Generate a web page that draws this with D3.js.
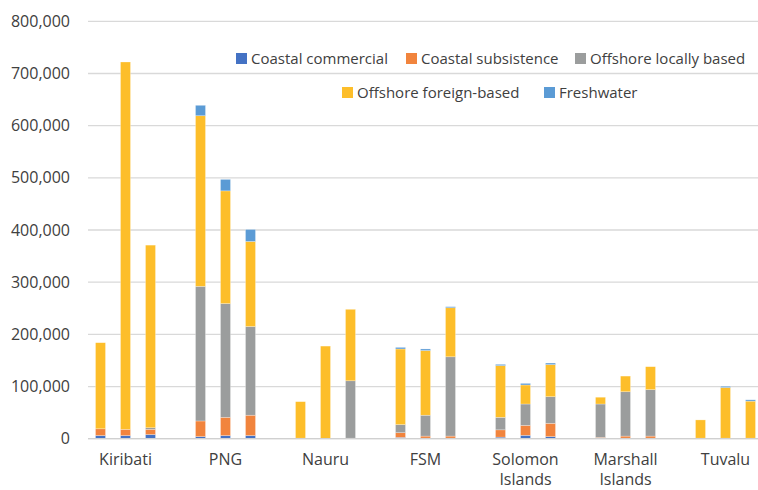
<!DOCTYPE html>
<html>
<head>
<meta charset="utf-8">
<script src="https://cdn.jsdelivr.net/npm/d3@7"></script>
<style>
  html, body { margin: 0; padding: 0; background: #fff; }
  svg { display: block; font-family: "Open Sans", "Liberation Sans", sans-serif; }
</style>
</head>
<body>
<svg id="chart" width="758" height="490"></svg>
<script>
// Countries, each with three stacked bars
const countries = ["Kiribati", "PNG", "Nauru", "FSM", "Solomon Islands", "Marshall Islands", "Tuvalu"];
const countryLines = [["Kiribati"], ["PNG"], ["Nauru"], ["FSM"], ["Solomon", "Islands"], ["Marshall", "Islands"], ["Tuvalu"]];
const barsPerCountry = [0, 1, 2];

// Series names (stack order, bottom to top)
const seriesNames = ["Coastal commercial", "Coastal subsistence", "Offshore locally based", "Offshore foreign-based", "Freshwater"];

// Values, three per country in country order
const coastalCommercial  = [6000, 6000, 8000,       4000, 6000, 6000,         0, 0, 0,              2500, 1000, 1000,     3000, 6500, 4000,     500, 1000, 1000,    0, 0, 0];
const coastalSubsistence = [13000, 12000, 10000,    30000, 35000, 39000,      1000, 500, 1000,      9000, 4000, 4000,     14000, 19000, 25500,  2000, 4000, 4000,   1000, 1000, 1000];
const offshoreLocal      = [0, 0, 3000,             258000, 218000, 170000,   0, 0, 110000,         15500, 40000, 152000, 24000, 41000, 51000,  64000, 85000, 89000, 0, 0, 0];
const offshoreForeign    = [165000, 704000, 350000, 327000, 216000, 163000,   70000, 177000, 137000, 145000, 124000, 94000, 99000, 36500, 61500,  13000, 30000, 44000, 35000, 97000, 71000];
const freshwater         = [0, 0, 0,                20000, 22000, 23000,      0, 0, 0,              3000, 3000, 2000,     2500, 3000, 3000,     0, 0, 0,            0, 2500, 2500];

// Y axis ticks
const yTicks = [0, 100000, 200000, 300000, 400000, 500000, 600000, 700000, 800000];

const seriesValues = [coastalCommercial, coastalSubsistence, offshoreLocal, offshoreForeign, freshwater];
const colors = ["#4472C4", "#F1843D", "#9B9D9D", "#FDBE2A", "#5B9BD5"];

// Build one row per bar
const rows = [];
countries.forEach((c, ci) => {
  barsPerCountry.forEach(b => {
    const row = { country: c, bar: b };
    seriesNames.forEach((s, si) => { row[s] = seriesValues[si][ci * 3 + b]; });
    rows.push(row);
  });
});

const svg = d3.select("#chart");
const plotLeft = 88, plotTop = 21.3, plotBottom = 438.7;

const x = d3.scaleBand().domain(countries).range([plotLeft, plotLeft + 700]).paddingInner(0).paddingOuter(0);
const inner = d3.scaleBand().domain(barsPerCountry).range([0, 75]).paddingInner(0.6).paddingOuter(0.3);
const y = d3.scaleLinear().domain([0, 800000]).range([plotBottom, plotTop]);

// Gridlines
svg.append("g")
  .selectAll("line")
  .data(yTicks)
  .join("line")
  .attr("x1", plotLeft)
  .attr("x2", 758)
  .attr("y1", d => y(d))
  .attr("y2", d => y(d))
  .attr("stroke", "#D9D9D9")
  .attr("stroke-width", 1.3);

// Y axis labels
const yAxis = d3.axisLeft(y).tickValues(yTicks).tickFormat(d3.format(",")).tickSize(0).tickPadding(0);
const yg = svg.append("g").attr("transform", `translate(70,0)`).call(yAxis);
yg.select(".domain").remove();
yg.selectAll("text")
  .attr("fill", "#404040")
  .style("font-size", "16px")
  .style("font-family", "\"Open Sans\", sans-serif");

// Stacked bars
const stack = d3.stack().keys(seriesNames);
const layers = stack(rows);

svg.append("g")
  .selectAll("g")
  .data(layers)
  .join("g")
  .attr("fill", (d, i) => colors[i])
  .selectAll("rect")
  .data(d => d)
  .join("rect")
  .attr("x", d => x(d.data.country) + inner(d.data.bar))
  .attr("width", inner.bandwidth())
  .attr("y", d => y(d[1]))
  .attr("height", d => Math.max(0, y(d[0]) - y(d[1])))
  .attr("stroke", "#ffffff")
  .attr("stroke-opacity", 0.45)
  .attr("stroke-width", 0.6);

// Baseline
svg.append("line")
  .attr("x1", plotLeft).attr("x2", 758)
  .attr("y1", y(0)).attr("y2", y(0))
  .attr("stroke", "#D0D0D0")
  .attr("stroke-width", 1.3);

// Country labels under the middle bar of each group
const xl = svg.append("g");
countries.forEach((c, ci) => {
  const cx = x(c) + inner(1) + inner.bandwidth() / 2;
  const t = xl.append("text")
    .attr("x", cx)
    .attr("y", 465)
    .attr("text-anchor", "middle")
    .attr("fill", "#404040")
    .style("font-size", "16px");
  countryLines[ci].forEach((line, li) => {
    t.append("tspan").attr("x", cx).attr("dy", li === 0 ? 0 : 20).text(line);
  });
});

// Legend
const legendItems = [
  { name: seriesNames[0], color: colors[0], x: 236, y: 58.5 },
  { name: seriesNames[1], color: colors[1], x: 406, y: 58.5 },
  { name: seriesNames[2], color: colors[2], x: 575, y: 58.5 },
  { name: seriesNames[3], color: colors[3], x: 342, y: 92.5 },
  { name: seriesNames[4], color: colors[4], x: 544, y: 92.5 }
];
const lg = svg.append("g")
  .selectAll("g")
  .data(legendItems)
  .join("g")
  .attr("transform", d => `translate(${d.x},${d.y})`);
lg.append("rect")
  .attr("x", 0).attr("y", -5.5)
  .attr("width", 11).attr("height", 11)
  .attr("fill", d => d.color);
lg.append("text")
  .attr("x", 15)
  .attr("y", 0)
  .attr("dy", "0.35em")
  .attr("fill", "#404040")
  .style("font-size", "15px")
  .text(d => d.name);
</script>
</body>
</html>
